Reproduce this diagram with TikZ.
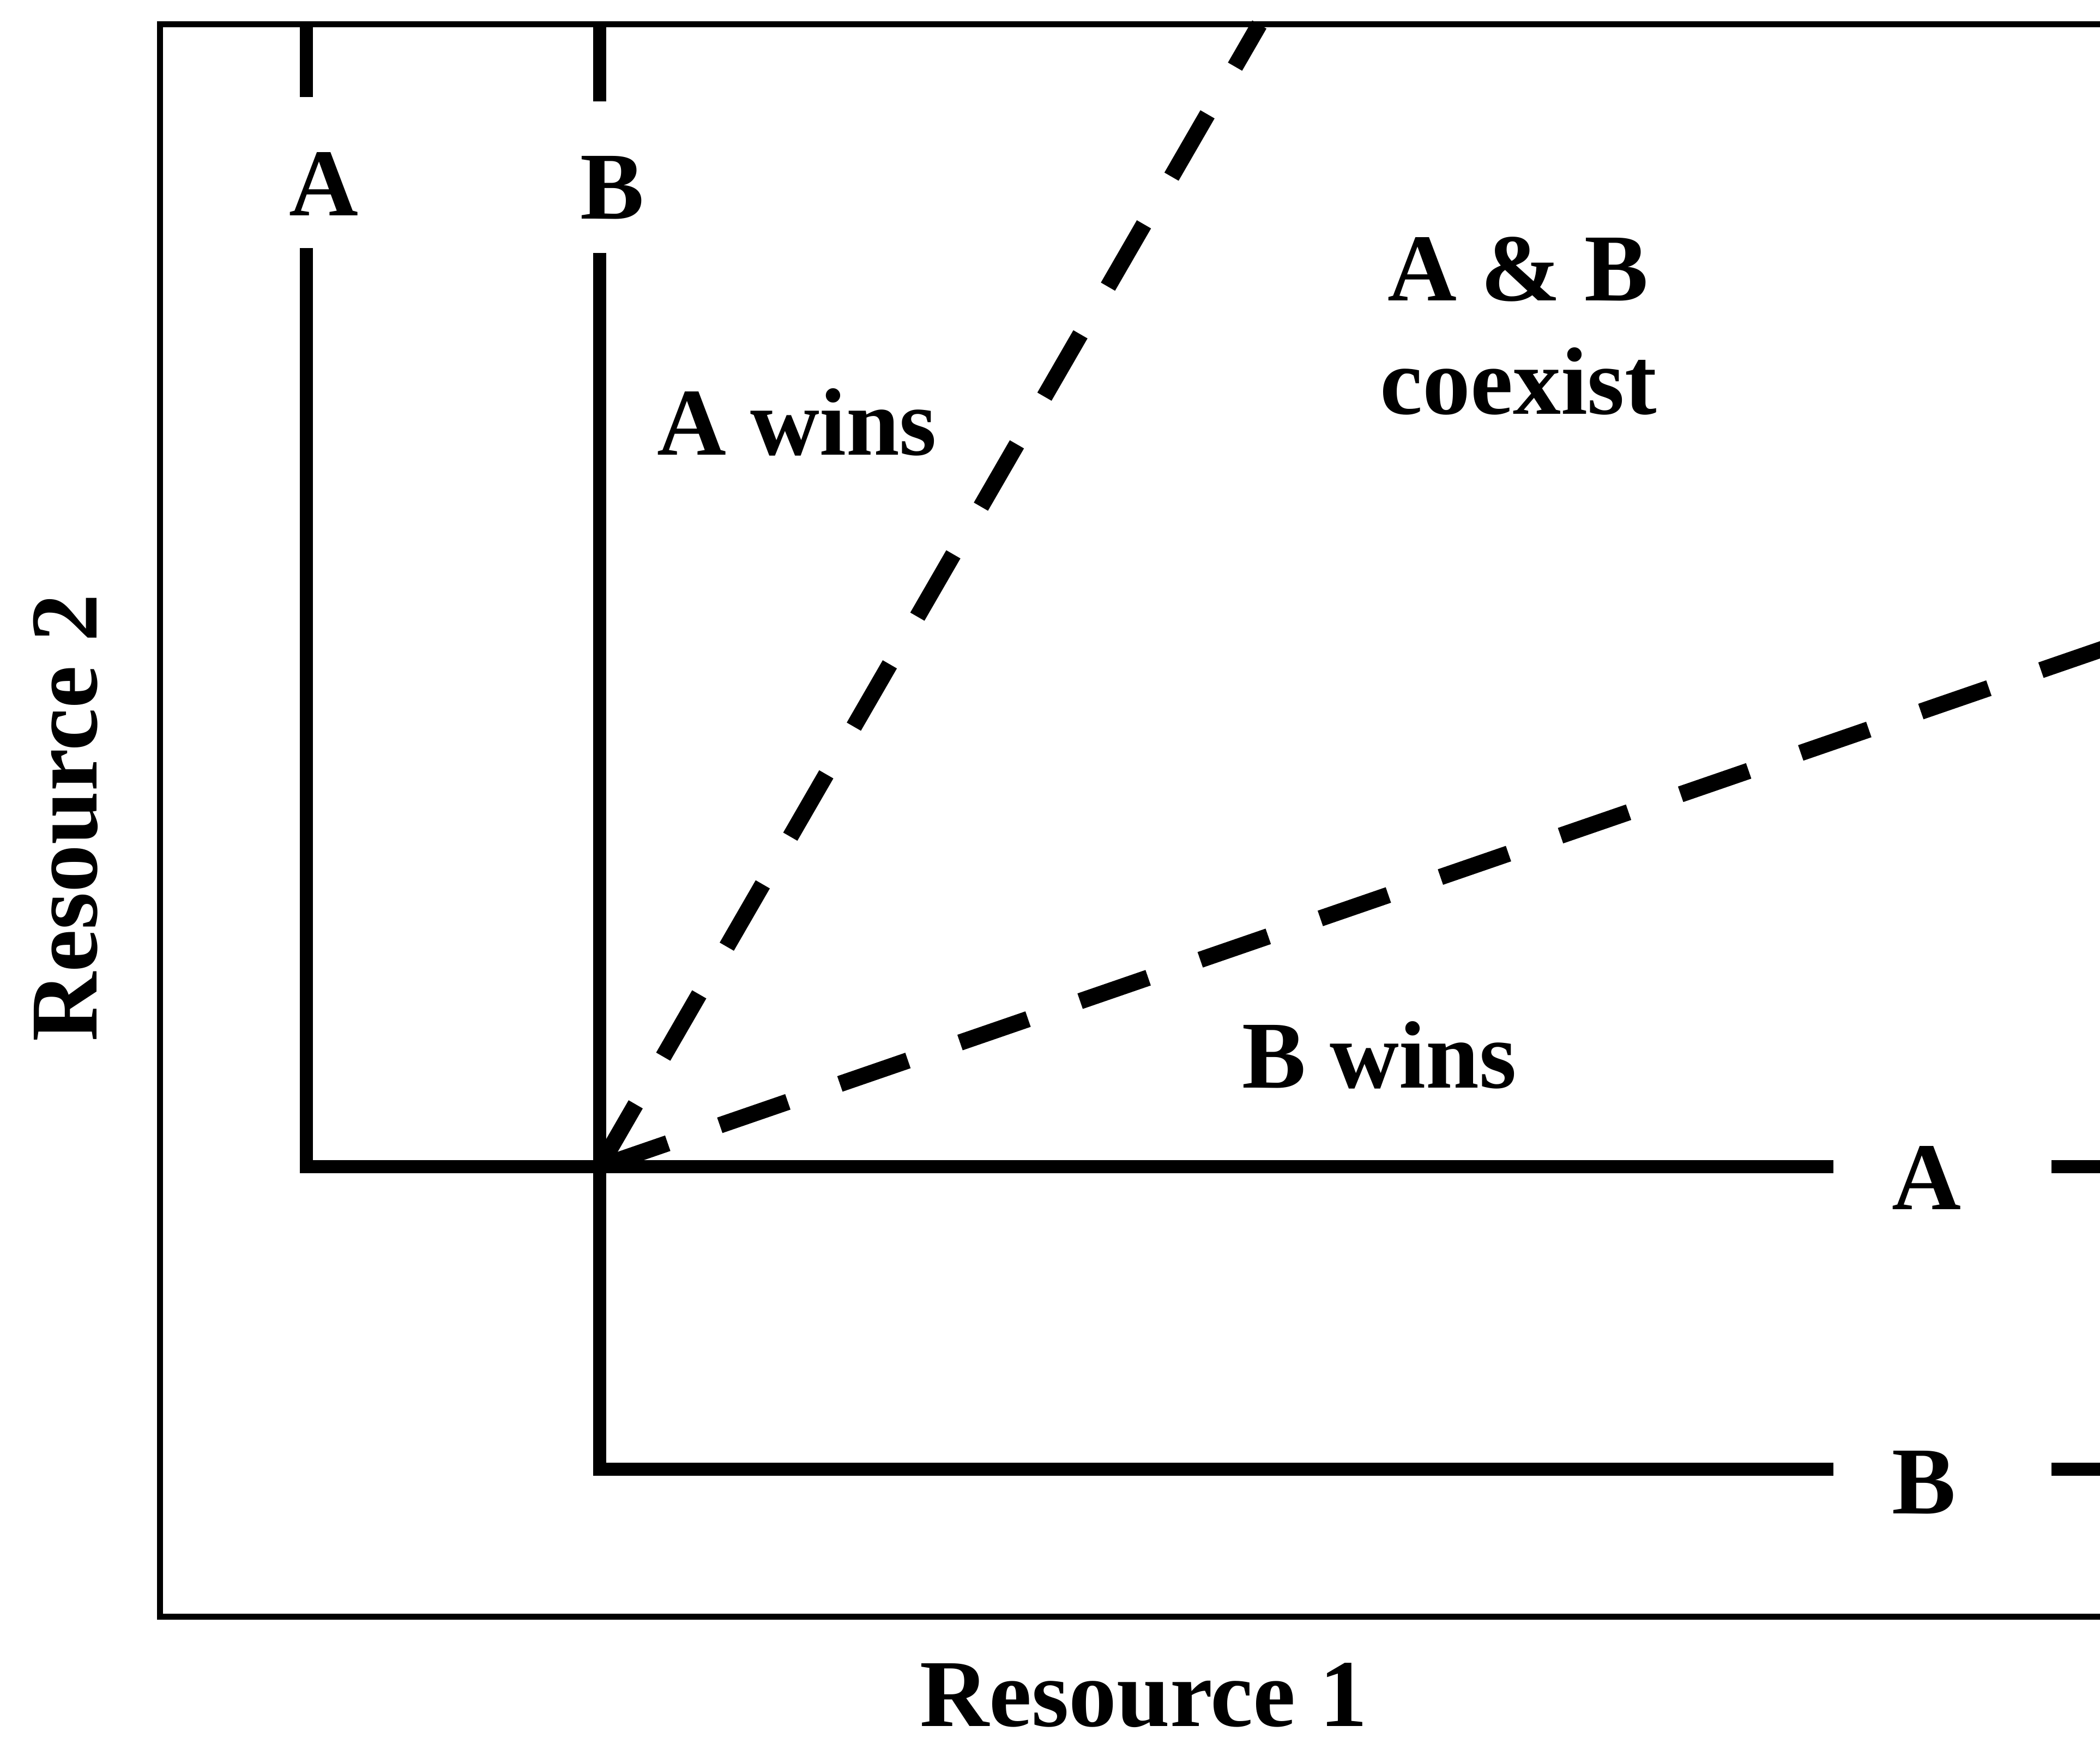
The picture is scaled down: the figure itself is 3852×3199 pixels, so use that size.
\documentclass[tikz,border=0pt]{standalone}
\usepackage{fontspec}
\setmainfont{Liberation Serif}
\usetikzlibrary{calc}

\begin{document}
\begin{tikzpicture}[
    x=0.05mm, y=-0.05mm,
    frame/.style={line width=0.55mm},
    isocline/.style={line width=1.2mm},
    boundary/.style={line width=1.5mm, dash pattern=on 6.6mm off 5.05mm},
    lab/.style={font=\bfseries\fontsize{25}{29.5}\selectfont, inner sep=0pt, anchor=base}
  ]

  \def\Top{45}
  \def\Bot{2965}
  \def\Left{293}
  \def\XA{562}    % isocline of A
  \def\XB{1100}   % isocline of B
  \def\YA{2140}
  \def\YB{2695}
  \def\Cut{3363}  % break for the right-hand labels
  \def\Back{3763}

  \useasboundingbox (0,0) rectangle (3852,3199);
  \clip (0,0) rectangle (3852,3199);

  % frame, open to the right
  \draw[frame] (3950,\Top) -- (\Left,\Top) -- (\Left,\Bot) -- (3950,\Bot);

  \coordinate (eq) at (\XB,\YA);

  % isocline A
  \draw[isocline] (\XA,\Top) -- (\XA,178);
  \node[lab] (labAtop) at (594,396) {A};
  \draw[isocline] (\XA,455) -- (\XA,\YA) -- (\Cut,\YA);
  \node[lab] (labAright) at (3534,2218) {A};
  \draw[isocline] (\Back,\YA) -- (3950,\YA);

  % isocline B
  \draw[isocline] (\XB,\Top) -- (\XB,186);
  \node[lab] (labBtop) at (1123,402) {B};
  \draw[isocline] (\XB,464) -- (\XB,\YB) -- (\Cut,\YB);
  \node[lab] (labBright) at (3529,2776) {B};
  \draw[isocline] (\Back,\YB) -- (3950,\YB);

  % boundaries of the coexistence region
  \coordinate (steepEnd) at (2310,\Top);
  \coordinate (flatEnd) at (4000,1141);
  \draw[boundary] (eq) -- (steepEnd);
  \draw[boundary] (eq) -- (flatEnd);

  % regions
  \node[lab] (awins) at (1462,835) {A wins};
  \node[lab] (bwins) at (2530,1995) {B wins};
  \node[lab, align=center, anchor=center] (coex) at (2785,598) {A \& B\\coexist};

  % axes
  \node[lab] (res1) at (2098,3166) {Resource 1};
  \node[lab, rotate=90] (res2) at (177,1500) {Resource 2};
\end{tikzpicture}
\end{document}
